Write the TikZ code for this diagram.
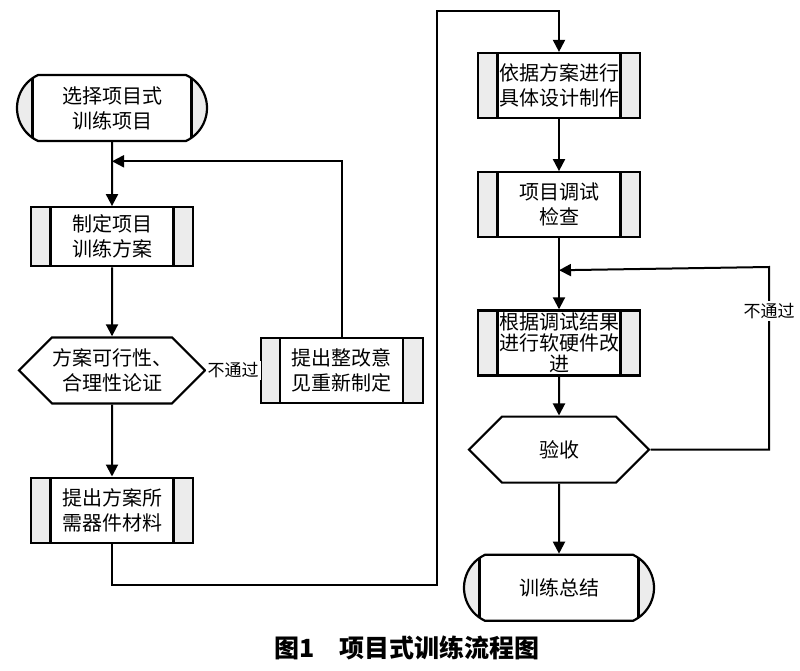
\documentclass[tikz,border=0pt]{standalone}
\usepackage{fontspec}
\usepackage{tikz}
\usetikzlibrary{shapes,arrows.meta,positioning,calc}
\newfontfamily\cjkfont{Noto Sans CJK SC}
\definecolor{sidegray}{RGB}{236,236,236}
\tikzset{
    base/.style={draw, line width=2.2pt, fill=white, inner sep=0pt, align=center, font=\cjkfont\fontsize{20}{25}\selectfont},
    block/.style={base, rectangle, minimum width=162pt, minimum height=65pt, path picture={
        \fill[sidegray] (path picture bounding box.north west) rectangle ([xshift=19.5pt]path picture bounding box.south west);
        \fill[sidegray] (path picture bounding box.north east) rectangle ([xshift=-19.5pt]path picture bounding box.south east);
        \draw[line width=2.2pt] ([xshift=19.5pt]path picture bounding box.north west) -- ([xshift=19.5pt]path picture bounding box.south west);
        \draw[line width=2.2pt] ([xshift=-19.5pt]path picture bounding box.north east) -- ([xshift=-19.5pt]path picture bounding box.south east);}},
    term/.style={base, rounded rectangle, rounded rectangle arc length=130, minimum width=190pt, minimum height=66pt, path picture={
        \fill[sidegray] (path picture bounding box.north west) rectangle ([xshift=20.5pt]path picture bounding box.south west);
        \fill[sidegray] (path picture bounding box.north east) rectangle ([xshift=-20.5pt]path picture bounding box.south east);
        \draw[line width=2.2pt] ([xshift=20.5pt]path picture bounding box.north west) -- ([xshift=20.5pt]path picture bounding box.south west);
        \draw[line width=2.2pt] ([xshift=-20.5pt]path picture bounding box.north east) -- ([xshift=-20.5pt]path picture bounding box.south east);}},
    decision/.style={base, signal, signal to=west and east, signal pointer angle=90, minimum width=180pt, minimum height=66pt},
    line/.style={draw, line width=2pt, line join=miter, -{Triangle[length=12pt, width=12pt]}},
    lbl/.style={fill=white, inner sep=2pt, font=\cjkfont\fontsize{17}{20}\selectfont}
}
\begin{document}
\begin{tikzpicture}[x=1pt, y=-1pt]
    \useasboundingbox (0,0) rectangle (800,671);

    % Left column
    \node [term] (start) at (112,108) {选择项目式\\训练项目};
    \node [block, minimum height=59pt, below=64pt of start] (plan) {制定项目\\训练方案};
    \node [decision, below=69pt of plan] (check) {方案可行性、\\合理性论证};
    \node [block, below=72pt of check] (parts) {提出方案所\\需器件材料};
    \node [block, right=53pt of check] (revise) {提出整改意\\见重新制定};

    % Right column
    \node [block] (design) at (559,85.5) {依据方案进行\\具体设计制作};
    \node [block, below=52pt of design] (debug) {项目调试\\检查};
    \node [block, below=71pt of debug, font=\cjkfont\fontsize{20}{21}\selectfont] (improve) {根据调试结果\\进行软硬件改\\进};
    \node [decision, below=39pt of improve] (accept) {验收};
    \node [term, below=70pt of accept] (finish) {训练总结};

    % Caption
    \node [font=\cjkfont\bfseries\fontsize{25}{30}\selectfont] (title) at (407,648) {图1\quad 项目式训练流程图};

    % Turning points
    \coordinate (join1) at ($(start.south)!0.3!(plan.north)$);
    \coordinate (join2) at ($(debug.south)!0.45!(improve.north)$);
    \coordinate (turnA) at (437,585);
    \coordinate (turnB) at (437,11);
    \coordinate (turnC) at (769,267);

    % Connectors
    \path [line] (start) -- (plan);
    \path [line] (plan) -- (check);
    \path [line] (check) -- (parts);
    \draw [line width=2pt] (check.east) -- node [lbl] {不通过} (revise.west);
    \path [line] (revise.north) |- (join1);
    \path [line] (parts.south) |- (turnA) -- (turnB) -| (design.north);
    \path [line] (design) -- (debug);
    \path [line] (debug) -- (improve);
    \path [line] (improve) -- (accept);
    \path [line] (accept.east) -| node [lbl, pos=0.88] {不通过} (turnC) -- (join2);
    \path [line] (accept) -- (finish);
\end{tikzpicture}
\end{document}
